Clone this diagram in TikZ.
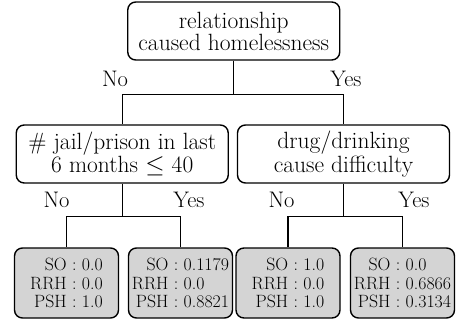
\documentclass[tikz,border=0pt]{standalone}
\usetikzlibrary{positioning}
\begin{document}
\begin{tikzpicture}[x=1pt,y=-1pt,
  decision/.style={draw, line width=1.4pt, rounded corners=8pt, minimum width=212pt, minimum height=58pt, align=center, inner sep=0pt, font=\fontsize{23.5}{22}\selectfont},
  leaf/.style={draw, line width=1.4pt, rounded corners=8pt, fill=black!17, minimum width=104pt, minimum height=70pt, align=right, inner sep=0pt, font=\fontsize{17.8}{18.5}\selectfont},
  edge/.style={line width=1.4pt},
  lbl/.style={font=\fontsize{22.5}{22}\selectfont, inner sep=0pt}]
\useasboundingbox (0,0) rectangle (456,322);
\node[decision] (root) at (233.75,31) {relationship\\caused homelessness};
\node[decision] (L) at (122.25,154) {\# jail/prison in last\\6 months $\leq$ 40};
\node[decision] (R) at (343.5,154) {drug/drinking\\cause difficulty};
\node[leaf] (L1) at (66.5,283) {SO : 0.0\\RRH : 0.0\\PSH : 1.0};
\node[leaf] (L2) at (180.5,283) {SO : 0.1179\\RRH : 0.0\phantom{000}\\PSH : 0.8821};
\node[leaf] (R1) at (288,283) {SO : 1.0\\RRH : 0.0\\PSH : 1.0};
\node[leaf] (R2) at (402.5,283) {SO : 0.0\phantom{000}\\RRH : 0.6866\\PSH : 0.3134};
\draw[edge] (root.south) -- ++(0,34) -| (L.north);
\draw[edge] (root.south) ++(0,34) -| (R.north);
\draw[edge] (L.south) -- ++(0,33) -| (L1.north);
\draw[edge] (L.south) ++(0,33) -| (L2.north);
\draw[edge] (R.south) -- ++(0,33) -| (R1.north);
\draw[edge] (R.south) ++(0,33) -| (R2.north);
\node[lbl] (n0) at (115,78.5) {No};
\node[lbl] (y0) at (346,78.5) {Yes};
\node[lbl] (n1) at (56.5,200) {No};
\node[lbl] (y1) at (189,200) {Yes};
\node[lbl] (n2) at (281.5,200) {No};
\node[lbl] (y2) at (414,200) {Yes};
\end{tikzpicture}
\end{document}
